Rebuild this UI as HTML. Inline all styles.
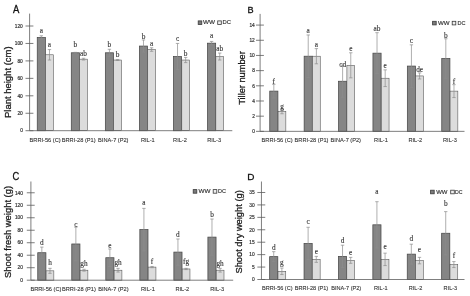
<!DOCTYPE html>
<html><head><meta charset="utf-8"><title>Figure</title>
<style>
html,body{margin:0;padding:0;background:#fff;}
body{width:470px;height:296px;overflow:hidden;font-family:"Liberation Sans",sans-serif;}
svg{display:block;filter:blur(0.3px);}
svg text{font-family:"Liberation Sans",sans-serif;}
</style></head><body>
<svg width="470" height="296" viewBox="0 0 470 296">
<rect width="470" height="296" fill="#fff"/>
<rect x="37.25" y="37.52" width="8.15" height="93.18" fill="#858585" stroke="#484848" stroke-width="0.75"/>
<path d="M41.33 35.77V39.26M39.62 35.77H43.03M39.62 39.26H43.03" stroke="#8c8c8c" stroke-width="0.7" fill="none"/>
<text x="41.33" y="33.17" style="font-family:&quot;Liberation Serif&quot;,serif" font-size="7.3" text-anchor="middle" fill="#333" stroke="#333" stroke-width="0.12">a</text>
<rect x="45.6" y="54.79" width="7.75" height="75.91" fill="#dcdcdc" stroke="#4f4f4f" stroke-width="0.55"/>
<path d="M49.48 49.56V60.03M47.77 49.56H51.18M47.77 60.03H51.18" stroke="#8c8c8c" stroke-width="0.7" fill="none"/>
<text x="49.48" y="46.96" style="font-family:&quot;Liberation Serif&quot;,serif" font-size="7.3" text-anchor="middle" fill="#333" stroke="#333" stroke-width="0.12">a</text>
<rect x="71.3" y="52.79" width="8.15" height="77.91" fill="#858585" stroke="#484848" stroke-width="0.75"/>
<path d="M75.38 52.35V53.22M73.67 52.35H77.08M73.67 53.22H77.08" stroke="#8c8c8c" stroke-width="0.7" fill="none"/>
<text x="75.38" y="47.49" style="font-family:&quot;Liberation Serif&quot;,serif" font-size="7.3" text-anchor="middle" fill="#333" stroke="#333" stroke-width="0.12">b</text>
<rect x="79.65" y="59.15" width="7.75" height="71.55" fill="#dcdcdc" stroke="#4f4f4f" stroke-width="0.55"/>
<path d="M83.52 58.28V60.03M81.82 58.28H85.22M81.82 60.03H85.22" stroke="#8c8c8c" stroke-width="0.7" fill="none"/>
<text x="83.52" y="55.75" style="font-family:&quot;Liberation Serif&quot;,serif" font-size="7.3" text-anchor="middle" fill="#333" stroke="#333" stroke-width="0.12">ab</text>
<rect x="105.35" y="52.79" width="8.15" height="77.91" fill="#858585" stroke="#484848" stroke-width="0.75"/>
<path d="M109.42 49.3V56.28M107.72 49.3H111.12M107.72 56.28H111.12" stroke="#8c8c8c" stroke-width="0.7" fill="none"/>
<text x="109.42" y="46.8" style="font-family:&quot;Liberation Serif&quot;,serif" font-size="7.3" text-anchor="middle" fill="#333" stroke="#333" stroke-width="0.12">b</text>
<rect x="113.7" y="60.03" width="7.75" height="70.67" fill="#dcdcdc" stroke="#4f4f4f" stroke-width="0.55"/>
<path d="M117.57 59.59V60.46M115.87 59.59H119.27M115.87 60.46H119.27" stroke="#8c8c8c" stroke-width="0.7" fill="none"/>
<text x="117.57" y="56.53" style="font-family:&quot;Liberation Serif&quot;,serif" font-size="7.3" text-anchor="middle" fill="#333" stroke="#333" stroke-width="0.12">b</text>
<rect x="139.4" y="46.07" width="8.15" height="84.63" fill="#858585" stroke="#484848" stroke-width="0.75"/>
<path d="M143.47 39.96V52.17M141.77 39.96H145.17M141.77 52.17H145.17" stroke="#8c8c8c" stroke-width="0.7" fill="none"/>
<text x="143.47" y="38.76" style="font-family:&quot;Liberation Serif&quot;,serif" font-size="7.3" text-anchor="middle" fill="#333" stroke="#333" stroke-width="0.12">b</text>
<rect x="147.75" y="49.56" width="7.75" height="81.14" fill="#dcdcdc" stroke="#4f4f4f" stroke-width="0.55"/>
<path d="M151.62 47.81V51.3M149.92 47.81H153.32M149.92 51.3H153.32" stroke="#8c8c8c" stroke-width="0.7" fill="none"/>
<text x="151.62" y="46.21" style="font-family:&quot;Liberation Serif&quot;,serif" font-size="7.3" text-anchor="middle" fill="#333" stroke="#333" stroke-width="0.12">a</text>
<rect x="173.45" y="56.54" width="8.15" height="74.16" fill="#858585" stroke="#484848" stroke-width="0.75"/>
<path d="M177.52 43.45V69.62M175.82 43.45H179.22M175.82 69.62H179.22" stroke="#8c8c8c" stroke-width="0.7" fill="none"/>
<text x="177.52" y="41.35" style="font-family:&quot;Liberation Serif&quot;,serif" font-size="7.3" text-anchor="middle" fill="#333" stroke="#333" stroke-width="0.12">c</text>
<rect x="181.8" y="60.03" width="7.75" height="70.67" fill="#dcdcdc" stroke="#4f4f4f" stroke-width="0.55"/>
<path d="M185.67 57.41V62.64M183.97 57.41H187.37M183.97 62.64H187.37" stroke="#8c8c8c" stroke-width="0.7" fill="none"/>
<text x="185.67" y="56.21" style="font-family:&quot;Liberation Serif&quot;,serif" font-size="7.3" text-anchor="middle" fill="#333" stroke="#333" stroke-width="0.12">b</text>
<rect x="207.5" y="43.19" width="8.15" height="87.51" fill="#858585" stroke="#484848" stroke-width="0.75"/>
<path d="M211.57 41.44V44.93M209.88 41.44H213.27M209.88 44.93H213.27" stroke="#8c8c8c" stroke-width="0.7" fill="none"/>
<text x="211.57" y="38.14" style="font-family:&quot;Liberation Serif&quot;,serif" font-size="7.3" text-anchor="middle" fill="#333" stroke="#333" stroke-width="0.12">a</text>
<rect x="215.85" y="56.54" width="7.75" height="74.16" fill="#dcdcdc" stroke="#4f4f4f" stroke-width="0.55"/>
<path d="M219.72 53.05V60.03M218.03 53.05H221.42M218.03 60.03H221.42" stroke="#8c8c8c" stroke-width="0.7" fill="none"/>
<text x="219.72" y="50.55" style="font-family:&quot;Liberation Serif&quot;,serif" font-size="7.3" text-anchor="middle" fill="#333" stroke="#333" stroke-width="0.12">ab</text>
<path d="M29.6 13.6V130.7H232.3" stroke="#5e5e5e" stroke-width="0.8" fill="none"/>
<path d="M25.5 130.7H33.4" stroke="#5c5c5c" stroke-width="0.8"/>
<text x="22.8" y="132.43" font-size="4.8" text-anchor="end" fill="#333" stroke="#333" stroke-width="0.18">0</text>
<path d="M25.5 113.25H33.4" stroke="#5c5c5c" stroke-width="0.8"/>
<text x="22.8" y="114.98" font-size="4.8" text-anchor="end" fill="#333" stroke="#333" stroke-width="0.18">20</text>
<path d="M25.5 95.8H33.4" stroke="#5c5c5c" stroke-width="0.8"/>
<text x="22.8" y="97.53" font-size="4.8" text-anchor="end" fill="#333" stroke="#333" stroke-width="0.18">40</text>
<path d="M25.5 78.35H33.4" stroke="#5c5c5c" stroke-width="0.8"/>
<text x="22.8" y="80.08" font-size="4.8" text-anchor="end" fill="#333" stroke="#333" stroke-width="0.18">60</text>
<path d="M25.5 60.9H33.4" stroke="#5c5c5c" stroke-width="0.8"/>
<text x="22.8" y="62.63" font-size="4.8" text-anchor="end" fill="#333" stroke="#333" stroke-width="0.18">80</text>
<path d="M25.5 43.45H33.4" stroke="#5c5c5c" stroke-width="0.8"/>
<text x="22.8" y="45.18" font-size="4.8" text-anchor="end" fill="#333" stroke="#333" stroke-width="0.18">100</text>
<path d="M25.5 26H33.4" stroke="#5c5c5c" stroke-width="0.8"/>
<text x="22.8" y="27.73" font-size="4.8" text-anchor="end" fill="#333" stroke="#333" stroke-width="0.18">120</text>
<text x="45.1" y="141.5" font-size="5.65" text-anchor="middle" fill="#333" stroke="#333" stroke-width="0.1">BRRI-56 (C)</text>
<text x="78.7" y="141.5" font-size="5.65" text-anchor="middle" fill="#333" stroke="#333" stroke-width="0.1">BRRI-28 (P1)</text>
<text x="113.3" y="141.5" font-size="5.65" text-anchor="middle" fill="#333" stroke="#333" stroke-width="0.1">BINA-7 (P2)</text>
<text x="147.8" y="141.5" font-size="5.65" text-anchor="middle" fill="#333" stroke="#333" stroke-width="0.1">RIL-1</text>
<text x="180" y="141.5" font-size="5.65" text-anchor="middle" fill="#333" stroke="#333" stroke-width="0.1">RIL-2</text>
<text x="214.2" y="141.5" font-size="5.65" text-anchor="middle" fill="#333" stroke="#333" stroke-width="0.1">RIL-3</text>
<text transform="translate(11.2 82.2) rotate(-90)" font-size="9.3" text-anchor="middle" textLength="71.5" lengthAdjust="spacingAndGlyphs" fill="#1a1a1a" stroke="#1a1a1a" stroke-width="0.28">Plant height (cm)</text>
<text x="12.9" y="12.7" font-size="10" fill="#111" stroke="#111" stroke-width="0.28" textLength="6.3" lengthAdjust="spacingAndGlyphs">A</text>
<rect x="198.2" y="20.9" width="3.6" height="3.6" fill="#7a7a7a" stroke="#3a3a3a" stroke-width="0.8"/>
<text x="203" y="24.45" font-size="5.6" textLength="12.0" lengthAdjust="spacingAndGlyphs" fill="#333" stroke="#333" stroke-width="0.15">WW</text>
<rect x="217.7" y="20.9" width="3.6" height="3.6" fill="#eee" stroke="#3a3a3a" stroke-width="0.8"/>
<text x="222.5" y="24.45" font-size="5.6" textLength="8.5" lengthAdjust="spacingAndGlyphs" fill="#333" stroke="#333" stroke-width="0.15">DC</text>
<rect x="269.75" y="91.12" width="8.15" height="40.23" fill="#858585" stroke="#484848" stroke-width="0.75"/>
<path d="M273.82 84.29V97.95M272.12 84.29H275.52M272.12 97.95H275.52" stroke="#8c8c8c" stroke-width="0.7" fill="none"/>
<text x="273.82" y="83.79" style="font-family:&quot;Liberation Serif&quot;,serif" font-size="7.3" text-anchor="middle" fill="#333" stroke="#333" stroke-width="0.12">f</text>
<rect x="278.1" y="111.46" width="7.75" height="19.89" fill="#dcdcdc" stroke="#4f4f4f" stroke-width="0.55"/>
<path d="M281.98 109.19V113.74M280.28 109.19H283.68M280.28 113.74H283.68" stroke="#8c8c8c" stroke-width="0.7" fill="none"/>
<text x="281.98" y="108.99" style="font-family:&quot;Liberation Serif&quot;,serif" font-size="7.3" text-anchor="middle" fill="#333" stroke="#333" stroke-width="0.12">g</text>
<rect x="304.15" y="56.21" width="8.15" height="75.14" fill="#858585" stroke="#484848" stroke-width="0.75"/>
<path d="M308.22 34.96V77.46M306.52 34.96H309.92M306.52 77.46H309.92" stroke="#8c8c8c" stroke-width="0.7" fill="none"/>
<text x="308.22" y="32.76" style="font-family:&quot;Liberation Serif&quot;,serif" font-size="7.3" text-anchor="middle" fill="#333" stroke="#333" stroke-width="0.12">a</text>
<rect x="312.5" y="56.21" width="7.75" height="75.14" fill="#dcdcdc" stroke="#4f4f4f" stroke-width="0.55"/>
<path d="M316.38 48.62V63.8M314.68 48.62H318.07M314.68 63.8H318.07" stroke="#8c8c8c" stroke-width="0.7" fill="none"/>
<text x="316.38" y="47.22" style="font-family:&quot;Liberation Serif&quot;,serif" font-size="7.3" text-anchor="middle" fill="#333" stroke="#333" stroke-width="0.12">a</text>
<rect x="338.55" y="81.26" width="8.15" height="50.09" fill="#858585" stroke="#484848" stroke-width="0.75"/>
<path d="M342.62 65.32V97.19M340.93 65.32H344.32M340.93 97.19H344.32" stroke="#8c8c8c" stroke-width="0.7" fill="none"/>
<text x="342.62" y="66.62" style="font-family:&quot;Liberation Serif&quot;,serif" font-size="7.3" text-anchor="middle" fill="#333" stroke="#333" stroke-width="0.12">cd</text>
<rect x="346.9" y="65.32" width="7.75" height="66.03" fill="#dcdcdc" stroke="#4f4f4f" stroke-width="0.55"/>
<path d="M350.78 52.79V77.84M349.08 52.79H352.48M349.08 77.84H352.48" stroke="#8c8c8c" stroke-width="0.7" fill="none"/>
<text x="350.78" y="51.49" style="font-family:&quot;Liberation Serif&quot;,serif" font-size="7.3" text-anchor="middle" fill="#333" stroke="#333" stroke-width="0.12">e</text>
<rect x="372.95" y="53.17" width="8.15" height="78.18" fill="#858585" stroke="#484848" stroke-width="0.75"/>
<path d="M377.02 32.68V73.67M375.32 32.68H378.72M375.32 73.67H378.72" stroke="#8c8c8c" stroke-width="0.7" fill="none"/>
<text x="377.02" y="31.38" style="font-family:&quot;Liberation Serif&quot;,serif" font-size="7.3" text-anchor="middle" fill="#333" stroke="#333" stroke-width="0.12">ab</text>
<rect x="381.3" y="78.22" width="7.75" height="53.13" fill="#dcdcdc" stroke="#4f4f4f" stroke-width="0.55"/>
<path d="M385.18 69.87V86.57M383.48 69.87H386.88M383.48 86.57H386.88" stroke="#8c8c8c" stroke-width="0.7" fill="none"/>
<text x="385.18" y="68.07" style="font-family:&quot;Liberation Serif&quot;,serif" font-size="7.3" text-anchor="middle" fill="#333" stroke="#333" stroke-width="0.12">e</text>
<rect x="407.35" y="66.08" width="8.15" height="65.27" fill="#858585" stroke="#484848" stroke-width="0.75"/>
<path d="M411.43 44.82V87.33M409.73 44.82H413.12M409.73 87.33H413.12" stroke="#8c8c8c" stroke-width="0.7" fill="none"/>
<text x="411.43" y="43.22" style="font-family:&quot;Liberation Serif&quot;,serif" font-size="7.3" text-anchor="middle" fill="#333" stroke="#333" stroke-width="0.12">c</text>
<rect x="415.7" y="75.94" width="7.75" height="55.41" fill="#dcdcdc" stroke="#4f4f4f" stroke-width="0.55"/>
<path d="M419.58 72.91V78.98M417.88 72.91H421.28M417.88 78.98H421.28" stroke="#8c8c8c" stroke-width="0.7" fill="none"/>
<text x="419.58" y="72.46" style="font-family:&quot;Liberation Serif&quot;,serif" font-size="7.3" text-anchor="middle" fill="#333" stroke="#333" stroke-width="0.12">de</text>
<rect x="441.75" y="58.49" width="8.15" height="72.86" fill="#858585" stroke="#484848" stroke-width="0.75"/>
<path d="M445.82 38.75V78.22M444.12 38.75H447.52M444.12 78.22H447.52" stroke="#8c8c8c" stroke-width="0.7" fill="none"/>
<text x="445.82" y="37.65" style="font-family:&quot;Liberation Serif&quot;,serif" font-size="7.3" text-anchor="middle" fill="#333" stroke="#333" stroke-width="0.12">b</text>
<rect x="450.1" y="91.12" width="7.75" height="40.23" fill="#dcdcdc" stroke="#4f4f4f" stroke-width="0.55"/>
<path d="M453.98 84.67V97.57M452.28 84.67H455.68M452.28 97.57H455.68" stroke="#8c8c8c" stroke-width="0.7" fill="none"/>
<text x="453.98" y="83.82" style="font-family:&quot;Liberation Serif&quot;,serif" font-size="7.3" text-anchor="middle" fill="#333" stroke="#333" stroke-width="0.12">f</text>
<path d="M260.1 13.9V131.35H464.5" stroke="#5e5e5e" stroke-width="0.8" fill="none"/>
<path d="M256 131.35H263.9" stroke="#5c5c5c" stroke-width="0.8"/>
<text x="254.8" y="133.08" font-size="4.8" text-anchor="end" fill="#333" stroke="#333" stroke-width="0.18">0</text>
<path d="M256 116.17H263.9" stroke="#5c5c5c" stroke-width="0.8"/>
<text x="254.8" y="117.9" font-size="4.8" text-anchor="end" fill="#333" stroke="#333" stroke-width="0.18">2</text>
<path d="M256 100.99H263.9" stroke="#5c5c5c" stroke-width="0.8"/>
<text x="254.8" y="102.72" font-size="4.8" text-anchor="end" fill="#333" stroke="#333" stroke-width="0.18">4</text>
<path d="M256 85.81H263.9" stroke="#5c5c5c" stroke-width="0.8"/>
<text x="254.8" y="87.54" font-size="4.8" text-anchor="end" fill="#333" stroke="#333" stroke-width="0.18">6</text>
<path d="M256 70.63H263.9" stroke="#5c5c5c" stroke-width="0.8"/>
<text x="254.8" y="72.36" font-size="4.8" text-anchor="end" fill="#333" stroke="#333" stroke-width="0.18">8</text>
<path d="M256 55.45H263.9" stroke="#5c5c5c" stroke-width="0.8"/>
<text x="254.8" y="57.18" font-size="4.8" text-anchor="end" fill="#333" stroke="#333" stroke-width="0.18">10</text>
<path d="M256 40.27H263.9" stroke="#5c5c5c" stroke-width="0.8"/>
<text x="254.8" y="42" font-size="4.8" text-anchor="end" fill="#333" stroke="#333" stroke-width="0.18">12</text>
<path d="M256 25.09H263.9" stroke="#5c5c5c" stroke-width="0.8"/>
<text x="254.8" y="26.82" font-size="4.8" text-anchor="end" fill="#333" stroke="#333" stroke-width="0.18">14</text>
<text x="277.1" y="141.5" font-size="5.65" text-anchor="middle" fill="#333" stroke="#333" stroke-width="0.1">BRRI-56 (C)</text>
<text x="311.5" y="141.5" font-size="5.65" text-anchor="middle" fill="#333" stroke="#333" stroke-width="0.1">BRRI-28 (P1)</text>
<text x="345.8" y="141.5" font-size="5.65" text-anchor="middle" fill="#333" stroke="#333" stroke-width="0.1">BINA-7 (P2)</text>
<text x="381" y="141.5" font-size="5.65" text-anchor="middle" fill="#333" stroke="#333" stroke-width="0.1">RIL-1</text>
<text x="415.3" y="141.5" font-size="5.65" text-anchor="middle" fill="#333" stroke="#333" stroke-width="0.1">RIL-2</text>
<text x="449.9" y="141.5" font-size="5.65" text-anchor="middle" fill="#333" stroke="#333" stroke-width="0.1">RIL-3</text>
<text transform="translate(245 78) rotate(-90)" font-size="9.3" text-anchor="middle" textLength="53.5" lengthAdjust="spacingAndGlyphs" fill="#1a1a1a" stroke="#1a1a1a" stroke-width="0.28">Tiller number</text>
<text x="247.4" y="12.5" font-size="9.6" fill="#111" stroke="#111" stroke-width="0.28" textLength="6.1" lengthAdjust="spacingAndGlyphs">B</text>
<rect x="432.6" y="21.3" width="3.6" height="3.6" fill="#7a7a7a" stroke="#3a3a3a" stroke-width="0.8"/>
<text x="437.9" y="24.85" font-size="5.6" textLength="11.6" lengthAdjust="spacingAndGlyphs" fill="#333" stroke="#333" stroke-width="0.15">WW</text>
<rect x="452.2" y="21.3" width="3.6" height="3.6" fill="#eee" stroke="#3a3a3a" stroke-width="0.8"/>
<text x="457.5" y="24.85" font-size="5.6" textLength="8.0" lengthAdjust="spacingAndGlyphs" fill="#333" stroke="#333" stroke-width="0.15">DC</text>
<rect x="37.75" y="252.72" width="8.15" height="27.48" fill="#858585" stroke="#484848" stroke-width="0.75"/>
<path d="M41.83 247.1V258.34M40.12 247.1H43.53M40.12 258.34H43.53" stroke="#8c8c8c" stroke-width="0.7" fill="none"/>
<text x="41.83" y="244.7" style="font-family:&quot;Liberation Serif&quot;,serif" font-size="7.3" text-anchor="middle" fill="#333" stroke="#333" stroke-width="0.12">d</text>
<rect x="46.1" y="270.83" width="7.75" height="9.37" fill="#dcdcdc" stroke="#4f4f4f" stroke-width="0.55"/>
<path d="M49.98 268.33V273.33M48.27 268.33H51.68M48.27 273.33H51.68" stroke="#8c8c8c" stroke-width="0.7" fill="none"/>
<text x="49.98" y="264.83" style="font-family:&quot;Liberation Serif&quot;,serif" font-size="7.3" text-anchor="middle" fill="#333" stroke="#333" stroke-width="0.12">h</text>
<rect x="71.78" y="243.98" width="8.15" height="36.22" fill="#858585" stroke="#484848" stroke-width="0.75"/>
<path d="M75.86 227.12V260.84M74.16 227.12H77.56M74.16 260.84H77.56" stroke="#8c8c8c" stroke-width="0.7" fill="none"/>
<text x="75.86" y="226.62" style="font-family:&quot;Liberation Serif&quot;,serif" font-size="7.3" text-anchor="middle" fill="#333" stroke="#333" stroke-width="0.12">c</text>
<rect x="80.13" y="270.21" width="7.75" height="9.99" fill="#dcdcdc" stroke="#4f4f4f" stroke-width="0.55"/>
<path d="M84 269.27V271.14M82.3 269.27H85.7M82.3 271.14H85.7" stroke="#8c8c8c" stroke-width="0.7" fill="none"/>
<text x="84" y="265.81" style="font-family:&quot;Liberation Serif&quot;,serif" font-size="7.3" text-anchor="middle" fill="#333" stroke="#333" stroke-width="0.12">gh</text>
<rect x="105.81" y="257.72" width="8.15" height="22.48" fill="#858585" stroke="#484848" stroke-width="0.75"/>
<path d="M109.89 248.97V266.46M108.19 248.97H111.59M108.19 266.46H111.59" stroke="#8c8c8c" stroke-width="0.7" fill="none"/>
<text x="109.89" y="247.97" style="font-family:&quot;Liberation Serif&quot;,serif" font-size="7.3" text-anchor="middle" fill="#333" stroke="#333" stroke-width="0.12">e</text>
<rect x="114.16" y="270.21" width="7.75" height="9.99" fill="#dcdcdc" stroke="#4f4f4f" stroke-width="0.55"/>
<path d="M118.03 268.33V272.08M116.33 268.33H119.73M116.33 272.08H119.73" stroke="#8c8c8c" stroke-width="0.7" fill="none"/>
<text x="118.03" y="265.13" style="font-family:&quot;Liberation Serif&quot;,serif" font-size="7.3" text-anchor="middle" fill="#333" stroke="#333" stroke-width="0.12">gh</text>
<rect x="139.84" y="229.62" width="8.15" height="50.58" fill="#858585" stroke="#484848" stroke-width="0.75"/>
<path d="M143.91 208.38V250.85M142.22 208.38H145.61M142.22 250.85H145.61" stroke="#8c8c8c" stroke-width="0.7" fill="none"/>
<text x="143.91" y="205.08" style="font-family:&quot;Liberation Serif&quot;,serif" font-size="7.3" text-anchor="middle" fill="#333" stroke="#333" stroke-width="0.12">a</text>
<rect x="148.19" y="267.09" width="7.75" height="13.11" fill="#dcdcdc" stroke="#4f4f4f" stroke-width="0.55"/>
<path d="M152.06 266.46V267.71M150.37 266.46H153.76M150.37 267.71H153.76" stroke="#8c8c8c" stroke-width="0.7" fill="none"/>
<text x="152.06" y="264.09" style="font-family:&quot;Liberation Serif&quot;,serif" font-size="7.3" text-anchor="middle" fill="#333" stroke="#333" stroke-width="0.12">f</text>
<rect x="173.87" y="252.1" width="8.15" height="28.1" fill="#858585" stroke="#484848" stroke-width="0.75"/>
<path d="M177.94 238.98V265.21M176.25 238.98H179.64M176.25 265.21H179.64" stroke="#8c8c8c" stroke-width="0.7" fill="none"/>
<text x="177.94" y="236.58" style="font-family:&quot;Liberation Serif&quot;,serif" font-size="7.3" text-anchor="middle" fill="#333" stroke="#333" stroke-width="0.12">d</text>
<rect x="182.22" y="268.96" width="7.75" height="11.24" fill="#dcdcdc" stroke="#4f4f4f" stroke-width="0.55"/>
<path d="M186.09 268.33V269.58M184.4 268.33H187.79M184.4 269.58H187.79" stroke="#8c8c8c" stroke-width="0.7" fill="none"/>
<text x="186.09" y="263.76" style="font-family:&quot;Liberation Serif&quot;,serif" font-size="7.3" text-anchor="middle" fill="#333" stroke="#333" stroke-width="0.12">fg</text>
<rect x="207.9" y="237.11" width="8.15" height="43.09" fill="#858585" stroke="#484848" stroke-width="0.75"/>
<path d="M211.97 219V255.22M210.28 219H213.67M210.28 255.22H213.67" stroke="#8c8c8c" stroke-width="0.7" fill="none"/>
<text x="211.97" y="216.6" style="font-family:&quot;Liberation Serif&quot;,serif" font-size="7.3" text-anchor="middle" fill="#333" stroke="#333" stroke-width="0.12">b</text>
<rect x="216.25" y="270.21" width="7.75" height="9.99" fill="#dcdcdc" stroke="#4f4f4f" stroke-width="0.55"/>
<path d="M220.12 268.33V272.08M218.43 268.33H221.82M218.43 272.08H221.82" stroke="#8c8c8c" stroke-width="0.7" fill="none"/>
<text x="220.12" y="266.13" style="font-family:&quot;Liberation Serif&quot;,serif" font-size="7.3" text-anchor="middle" fill="#333" stroke="#333" stroke-width="0.12">gh</text>
<path d="M30.9 181.5V280.2H233.2" stroke="#5e5e5e" stroke-width="0.8" fill="none"/>
<path d="M26.8 280.2H34.7" stroke="#5c5c5c" stroke-width="0.8"/>
<text x="22.9" y="281.93" font-size="4.8" text-anchor="end" fill="#333" stroke="#333" stroke-width="0.18">0</text>
<path d="M26.8 267.71H34.7" stroke="#5c5c5c" stroke-width="0.8"/>
<text x="22.9" y="269.44" font-size="4.8" text-anchor="end" fill="#333" stroke="#333" stroke-width="0.18">20</text>
<path d="M26.8 255.22H34.7" stroke="#5c5c5c" stroke-width="0.8"/>
<text x="22.9" y="256.95" font-size="4.8" text-anchor="end" fill="#333" stroke="#333" stroke-width="0.18">40</text>
<path d="M26.8 242.73H34.7" stroke="#5c5c5c" stroke-width="0.8"/>
<text x="22.9" y="244.46" font-size="4.8" text-anchor="end" fill="#333" stroke="#333" stroke-width="0.18">60</text>
<path d="M26.8 230.24H34.7" stroke="#5c5c5c" stroke-width="0.8"/>
<text x="22.9" y="231.97" font-size="4.8" text-anchor="end" fill="#333" stroke="#333" stroke-width="0.18">80</text>
<path d="M26.8 217.75H34.7" stroke="#5c5c5c" stroke-width="0.8"/>
<text x="22.9" y="219.48" font-size="4.8" text-anchor="end" fill="#333" stroke="#333" stroke-width="0.18">100</text>
<path d="M26.8 205.26H34.7" stroke="#5c5c5c" stroke-width="0.8"/>
<text x="22.9" y="206.99" font-size="4.8" text-anchor="end" fill="#333" stroke="#333" stroke-width="0.18">120</text>
<path d="M26.8 192.77H34.7" stroke="#5c5c5c" stroke-width="0.8"/>
<text x="22.9" y="194.5" font-size="4.8" text-anchor="end" fill="#333" stroke="#333" stroke-width="0.18">140</text>
<text x="45.9" y="290.7" font-size="5.65" text-anchor="middle" fill="#333" stroke="#333" stroke-width="0.1">BRRI-56 (C)</text>
<text x="78.9" y="290.7" font-size="5.65" text-anchor="middle" fill="#333" stroke="#333" stroke-width="0.1">BRRI-28 (P1)</text>
<text x="113.4" y="290.7" font-size="5.65" text-anchor="middle" fill="#333" stroke="#333" stroke-width="0.1">BINA-7 (P2)</text>
<text x="147.9" y="290.7" font-size="5.65" text-anchor="middle" fill="#333" stroke="#333" stroke-width="0.1">RIL-1</text>
<text x="182.3" y="290.7" font-size="5.65" text-anchor="middle" fill="#333" stroke="#333" stroke-width="0.1">RIL-2</text>
<text x="217.2" y="290.7" font-size="5.65" text-anchor="middle" fill="#333" stroke="#333" stroke-width="0.1">RIL-3</text>
<text transform="translate(11.3 231.9) rotate(-90)" font-size="9.3" text-anchor="middle" textLength="92" lengthAdjust="spacingAndGlyphs" fill="#1a1a1a" stroke="#1a1a1a" stroke-width="0.28">Shoot fresh weight (g)</text>
<text x="12.55" y="180.4" font-size="10.2" fill="#111" stroke="#111" stroke-width="0.28" textLength="6.7" lengthAdjust="spacingAndGlyphs">C</text>
<rect x="193.2" y="189.6" width="3.6" height="3.6" fill="#7a7a7a" stroke="#3a3a3a" stroke-width="0.8"/>
<text x="198.5" y="193.15" font-size="5.6" textLength="12.0" lengthAdjust="spacingAndGlyphs" fill="#333" stroke="#333" stroke-width="0.15">WW</text>
<rect x="213.2" y="189.6" width="3.6" height="3.6" fill="#eee" stroke="#3a3a3a" stroke-width="0.8"/>
<text x="218" y="193.15" font-size="5.6" textLength="8.0" lengthAdjust="spacingAndGlyphs" fill="#333" stroke="#333" stroke-width="0.15">DC</text>
<rect x="269.65" y="256.63" width="8.15" height="22.87" fill="#858585" stroke="#484848" stroke-width="0.75"/>
<path d="M273.72 251.66V261.6M272.02 251.66H275.42M272.02 261.6H275.42" stroke="#8c8c8c" stroke-width="0.7" fill="none"/>
<text x="273.72" y="249.56" style="font-family:&quot;Liberation Serif&quot;,serif" font-size="7.3" text-anchor="middle" fill="#333" stroke="#333" stroke-width="0.12">d</text>
<rect x="278" y="271.3" width="7.75" height="8.2" fill="#dcdcdc" stroke="#4f4f4f" stroke-width="0.55"/>
<path d="M281.88 268.06V274.53M280.18 268.06H283.57M280.18 274.53H283.57" stroke="#8c8c8c" stroke-width="0.7" fill="none"/>
<text x="281.88" y="265.16" style="font-family:&quot;Liberation Serif&quot;,serif" font-size="7.3" text-anchor="middle" fill="#333" stroke="#333" stroke-width="0.12">g</text>
<rect x="304.05" y="243.45" width="8.15" height="36.05" fill="#858585" stroke="#484848" stroke-width="0.75"/>
<path d="M308.12 227.29V259.61M306.42 227.29H309.82M306.42 259.61H309.82" stroke="#8c8c8c" stroke-width="0.7" fill="none"/>
<text x="308.12" y="224.49" style="font-family:&quot;Liberation Serif&quot;,serif" font-size="7.3" text-anchor="middle" fill="#333" stroke="#333" stroke-width="0.12">c</text>
<rect x="312.4" y="259.36" width="7.75" height="20.14" fill="#dcdcdc" stroke="#4f4f4f" stroke-width="0.55"/>
<path d="M316.27 256.38V262.35M314.57 256.38H317.97M314.57 262.35H317.97" stroke="#8c8c8c" stroke-width="0.7" fill="none"/>
<text x="316.27" y="254.08" style="font-family:&quot;Liberation Serif&quot;,serif" font-size="7.3" text-anchor="middle" fill="#333" stroke="#333" stroke-width="0.12">e</text>
<rect x="338.45" y="256.38" width="8.15" height="23.12" fill="#858585" stroke="#484848" stroke-width="0.75"/>
<path d="M342.52 245.19V267.57M340.82 245.19H344.22M340.82 267.57H344.22" stroke="#8c8c8c" stroke-width="0.7" fill="none"/>
<text x="342.52" y="242.89" style="font-family:&quot;Liberation Serif&quot;,serif" font-size="7.3" text-anchor="middle" fill="#333" stroke="#333" stroke-width="0.12">d</text>
<rect x="346.8" y="260.36" width="7.75" height="19.14" fill="#dcdcdc" stroke="#4f4f4f" stroke-width="0.55"/>
<path d="M350.68 257.37V263.34M348.98 257.37H352.38M348.98 263.34H352.38" stroke="#8c8c8c" stroke-width="0.7" fill="none"/>
<text x="350.68" y="255.37" style="font-family:&quot;Liberation Serif&quot;,serif" font-size="7.3" text-anchor="middle" fill="#333" stroke="#333" stroke-width="0.12">e</text>
<rect x="372.85" y="224.81" width="8.15" height="54.69" fill="#858585" stroke="#484848" stroke-width="0.75"/>
<path d="M376.92 201.69V247.93M375.22 201.69H378.62M375.22 247.93H378.62" stroke="#8c8c8c" stroke-width="0.7" fill="none"/>
<text x="376.92" y="194.19" style="font-family:&quot;Liberation Serif&quot;,serif" font-size="7.3" text-anchor="middle" fill="#333" stroke="#333" stroke-width="0.12">a</text>
<rect x="381.2" y="259.36" width="7.75" height="20.14" fill="#dcdcdc" stroke="#4f4f4f" stroke-width="0.55"/>
<path d="M385.07 253.15V265.58M383.38 253.15H386.77M383.38 265.58H386.77" stroke="#8c8c8c" stroke-width="0.7" fill="none"/>
<text x="385.07" y="248.65" style="font-family:&quot;Liberation Serif&quot;,serif" font-size="7.3" text-anchor="middle" fill="#333" stroke="#333" stroke-width="0.12">e</text>
<rect x="407.25" y="254.14" width="8.15" height="25.36" fill="#858585" stroke="#484848" stroke-width="0.75"/>
<path d="M411.32 244.2V264.09M409.62 244.2H413.02M409.62 264.09H413.02" stroke="#8c8c8c" stroke-width="0.7" fill="none"/>
<text x="411.32" y="241.1" style="font-family:&quot;Liberation Serif&quot;,serif" font-size="7.3" text-anchor="middle" fill="#333" stroke="#333" stroke-width="0.12">d</text>
<rect x="415.6" y="260.61" width="7.75" height="18.89" fill="#dcdcdc" stroke="#4f4f4f" stroke-width="0.55"/>
<path d="M419.48 257.37V263.84M417.78 257.37H421.18M417.78 263.84H421.18" stroke="#8c8c8c" stroke-width="0.7" fill="none"/>
<text x="419.48" y="251.67" style="font-family:&quot;Liberation Serif&quot;,serif" font-size="7.3" text-anchor="middle" fill="#333" stroke="#333" stroke-width="0.12">e</text>
<rect x="441.65" y="233.26" width="8.15" height="46.24" fill="#858585" stroke="#484848" stroke-width="0.75"/>
<path d="M445.72 211.63V254.89M444.02 211.63H447.42M444.02 254.89H447.42" stroke="#8c8c8c" stroke-width="0.7" fill="none"/>
<text x="445.72" y="206.03" style="font-family:&quot;Liberation Serif&quot;,serif" font-size="7.3" text-anchor="middle" fill="#333" stroke="#333" stroke-width="0.12">b</text>
<rect x="450" y="264.58" width="7.75" height="14.92" fill="#dcdcdc" stroke="#4f4f4f" stroke-width="0.55"/>
<path d="M453.88 261.6V267.57M452.18 261.6H455.57M452.18 267.57H455.57" stroke="#8c8c8c" stroke-width="0.7" fill="none"/>
<text x="453.88" y="257.9" style="font-family:&quot;Liberation Serif&quot;,serif" font-size="7.3" text-anchor="middle" fill="#333" stroke="#333" stroke-width="0.12">f</text>
<path d="M261.45 181.5V279.5H464.5" stroke="#5e5e5e" stroke-width="0.8" fill="none"/>
<path d="M257.35 279.5H265.25" stroke="#5c5c5c" stroke-width="0.8"/>
<text x="254.65" y="281.23" font-size="4.8" text-anchor="end" fill="#333" stroke="#333" stroke-width="0.18">0</text>
<path d="M257.35 267.07H265.25" stroke="#5c5c5c" stroke-width="0.8"/>
<text x="254.65" y="268.8" font-size="4.8" text-anchor="end" fill="#333" stroke="#333" stroke-width="0.18">5</text>
<path d="M257.35 254.64H265.25" stroke="#5c5c5c" stroke-width="0.8"/>
<text x="254.65" y="256.37" font-size="4.8" text-anchor="end" fill="#333" stroke="#333" stroke-width="0.18">10</text>
<path d="M257.35 242.21H265.25" stroke="#5c5c5c" stroke-width="0.8"/>
<text x="254.65" y="243.94" font-size="4.8" text-anchor="end" fill="#333" stroke="#333" stroke-width="0.18">15</text>
<path d="M257.35 229.78H265.25" stroke="#5c5c5c" stroke-width="0.8"/>
<text x="254.65" y="231.51" font-size="4.8" text-anchor="end" fill="#333" stroke="#333" stroke-width="0.18">20</text>
<path d="M257.35 217.35H265.25" stroke="#5c5c5c" stroke-width="0.8"/>
<text x="254.65" y="219.08" font-size="4.8" text-anchor="end" fill="#333" stroke="#333" stroke-width="0.18">25</text>
<path d="M257.35 204.92H265.25" stroke="#5c5c5c" stroke-width="0.8"/>
<text x="254.65" y="206.65" font-size="4.8" text-anchor="end" fill="#333" stroke="#333" stroke-width="0.18">30</text>
<path d="M257.35 192.49H265.25" stroke="#5c5c5c" stroke-width="0.8"/>
<text x="254.65" y="194.22" font-size="4.8" text-anchor="end" fill="#333" stroke="#333" stroke-width="0.18">35</text>
<text x="277.3" y="290.3" font-size="5.55" text-anchor="middle" fill="#333" stroke="#333" stroke-width="0.1">BRRI-56 (C)</text>
<text x="311.5" y="290.3" font-size="5.55" text-anchor="middle" fill="#333" stroke="#333" stroke-width="0.1">BRRI-28 (P1)</text>
<text x="346.2" y="290.3" font-size="5.55" text-anchor="middle" fill="#333" stroke="#333" stroke-width="0.1">BINA-7 (P2)</text>
<text x="380.8" y="290.3" font-size="5.55" text-anchor="middle" fill="#333" stroke="#333" stroke-width="0.1">RIL-1</text>
<text x="415.6" y="290.3" font-size="5.55" text-anchor="middle" fill="#333" stroke="#333" stroke-width="0.1">RIL-2</text>
<text x="450.4" y="290.3" font-size="5.55" text-anchor="middle" fill="#333" stroke="#333" stroke-width="0.1">RIL-3</text>
<text transform="translate(242.2 231.9) rotate(-90)" font-size="9.3" text-anchor="middle" textLength="83.3" lengthAdjust="spacingAndGlyphs" fill="#1a1a1a" stroke="#1a1a1a" stroke-width="0.28">Shoot dry weight (g)</text>
<text x="247.2" y="180.2" font-size="9.5" fill="#111" stroke="#111" stroke-width="0.28" textLength="7.2" lengthAdjust="spacingAndGlyphs">D</text>
<rect x="430.6" y="190.2" width="3.6" height="3.6" fill="#7a7a7a" stroke="#3a3a3a" stroke-width="0.8"/>
<text x="436.2" y="193.75" font-size="5.6" textLength="11.3" lengthAdjust="spacingAndGlyphs" fill="#333" stroke="#333" stroke-width="0.15">WW</text>
<rect x="450.7" y="190.2" width="3.6" height="3.6" fill="#eee" stroke="#3a3a3a" stroke-width="0.8"/>
<text x="455" y="193.75" font-size="5.6" textLength="7.5" lengthAdjust="spacingAndGlyphs" fill="#333" stroke="#333" stroke-width="0.15">DC</text>
</svg>
</body></html>
